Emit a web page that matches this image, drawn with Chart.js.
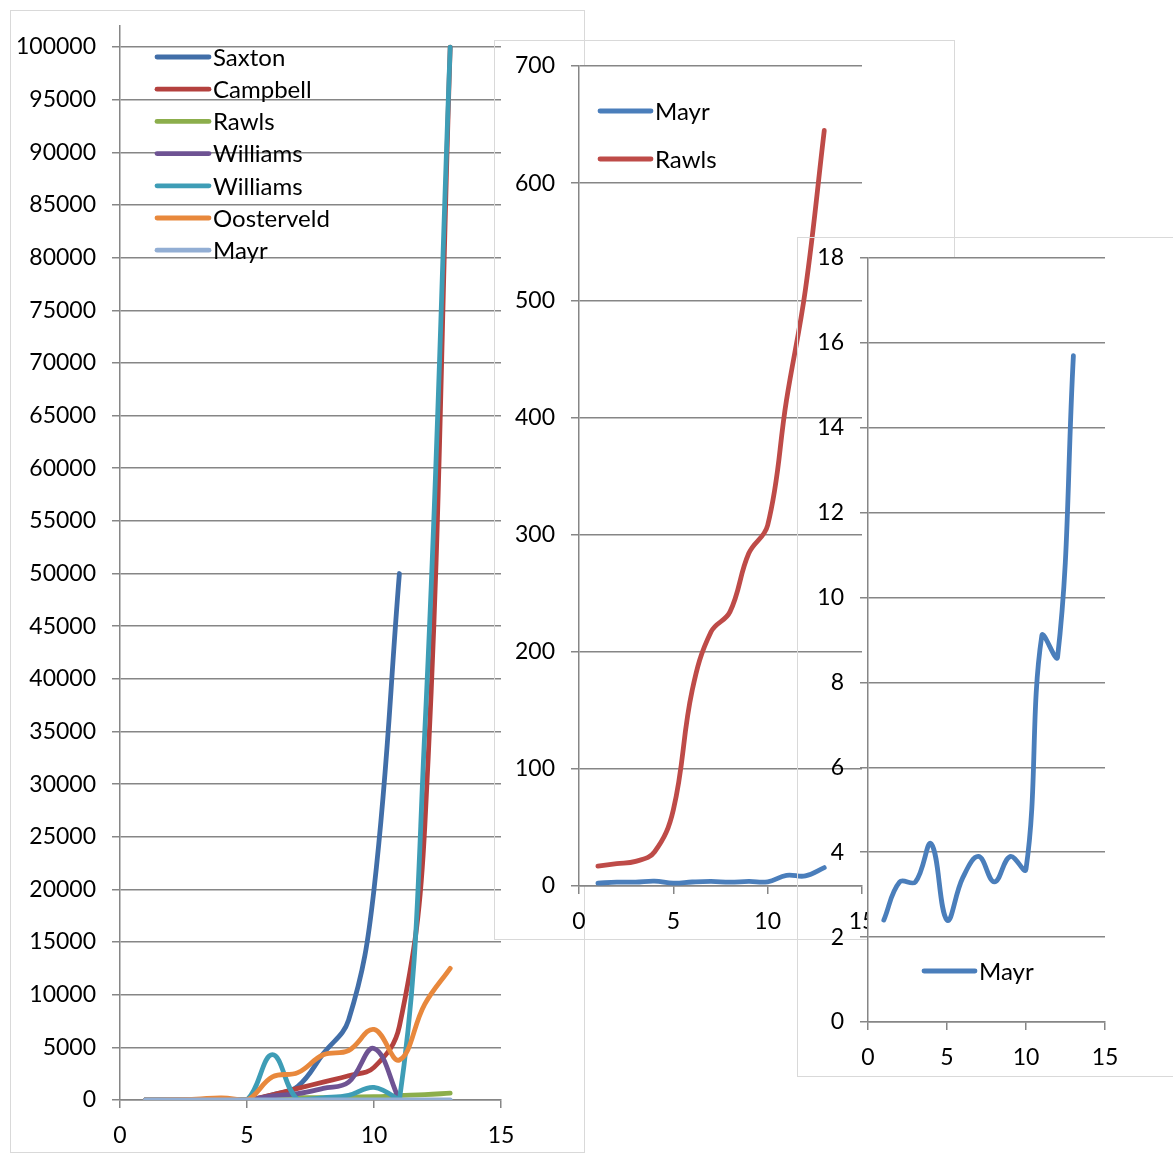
<!DOCTYPE html>
<html>
<head>
<meta charset="utf-8">
<title>Series growth</title>
<script src="https://cdn.jsdelivr.net/npm/chart.js@4.4.1/dist/chart.umd.min.js"></script>
<style>
  html, body { margin: 0; padding: 0; background: #ffffff; }
  #stage { position: relative; width: 1173px; height: 1154px; overflow: hidden; }
  #stage canvas { position: absolute; left: 0; top: 0; }
  .frame { position: absolute; box-sizing: border-box; border: 1.5px solid #d9d9d9; }
</style>
</head>
<body>
<div id="stage">
  <div class="frame" style="left:10px;top:10px;width:575px;height:1143px;"></div>
  <canvas id="c1" width="1173" height="1154"></canvas>
  <div class="frame" style="left:494px;top:40px;width:461px;height:900px;"></div>
  <canvas id="c2" width="1173" height="1154"></canvas>
  <div class="frame" style="left:797px;top:237px;width:377px;height:840px;"></div>
  <canvas id="c3" width="1173" height="1154"></canvas>
</div>
<script>
// x positions shared by every series
const xs = [1, 2, 3, 4, 5, 6, 7, 8, 9, 10, 11, 12, 13];

// all series
const saxton     = [0, 0, 0, 0, 0, 500, 1300, 4400, 7600, 20000, 50000];
const campbell   = [0, 0, 0, 0, 0, 500, 1100, 1700, 2300, 3100, 7000, 26000, 100000];
const rawls      = [17, 19, 21, 29, 65, 167, 217, 234, 284, 308, 415, 509, 645];
const williams1  = [0, 0, 0, 0, 0, 400, 600, 1100, 1700, 4900, 0];
const williams2  = [0, 0, 0, 0, 0, 4300, 0, 200, 450, 1200, 0, 35000, 100000];
const oosterveld = [10, 30, 80, 200, 0, 2200, 2600, 4300, 4700, 6700, 3800, 9100, 12500];
const mayr       = [2.4, 3.3, 3.3, 4.2, 2.4, 3.4, 3.9, 3.3, 3.9, 3.6, 9.1, 8.6, 15.7];

// axis ticks
const xTicks = [0, 5, 10, 15];
const yTicksAll = [0, 100000, 5000];   // min, max, step
const yTicksRawls = [0, 700, 100];
const yTicksMayr = [0, 18, 2];

const FONT = 'Lato, "Open Sans", sans-serif';
const GRID = '#868686';

function pts(vals) {
  return vals.map((v, i) => ({ x: xs[i], y: v }));
}

function series(label, vals, color, idx) {
  return {
    label: label,
    data: pts(vals),
    borderColor: color,
    backgroundColor: color,
    borderWidth: 4.8,
    borderCapStyle: 'round',
    borderJoinStyle: 'round',
    pointRadius: 0,
    tension: 0.4,
    fill: false,
    order: 100 - idx
  };
}

// fixed plot rectangle and white plot area behind grid and lines
const plotFill = {
  id: 'plotFill',
  afterLayout(chart, args, opts) {
    const b = opts.box;
    const a = chart.chartArea;
    a.left = b.left; a.right = b.right; a.top = b.top; a.bottom = b.bottom;
    a.width = b.right - b.left; a.height = b.bottom - b.top;
    const x = chart.scales.x, y = chart.scales.y;
    x.left = b.left; x.right = b.right; x.width = b.right - b.left;
    x.top = b.bottom; x.bottom = chart.height; x.height = chart.height - b.bottom;
    y.left = 0; y.right = b.left; y.width = b.left;
    y.top = b.top; y.bottom = b.bottom; y.height = b.bottom - b.top;
    x.configure();
    y.configure();
  },
  beforeDraw(chart) {
    const a = chart.chartArea;
    const ctx = chart.ctx;
    ctx.save();
    ctx.fillStyle = '#ffffff';
    ctx.fillRect(a.left, a.top, a.right - a.left, a.bottom - a.top);
    ctx.restore();
  }
};

// legend drawn inside the plot area
const boxLegend = {
  id: 'boxLegend',
  afterDraw(chart, args, opts) {
    const ctx = chart.ctx;
    ctx.save();
    ctx.font = opts.fontSize + 'px ' + FONT;
    ctx.textBaseline = 'middle';
    ctx.textAlign = 'left';
    chart.data.datasets.forEach((ds, i) => {
      const y = opts.y + i * opts.dy;
      ctx.strokeStyle = ds.borderColor;
      ctx.lineWidth = 4.8;
      ctx.lineCap = 'round';
      ctx.beginPath();
      ctx.moveTo(opts.x, y);
      ctx.lineTo(opts.x + opts.len, y);
      ctx.stroke();
      ctx.fillStyle = '#000000';
      ctx.fillText(ds.label, opts.x + opts.len + 4, y + 1);
    });
    ctx.restore();
  }
};

function makeChart(id, datasets, yDef, box, legend, yTop) {
  const W = 100, H = 30;
  const canvasW = 1173, canvasH = 1154;
  new Chart(document.getElementById(id), {
    type: 'line',
    data: { datasets: datasets },
    plugins: [plotFill, boxLegend],
    options: {
      responsive: false,
      animation: false,
      events: [],
      layout: {
        padding: {
          left: box.left - W,
          right: canvasW - box.right,
          top: box.top,
          bottom: canvasH - box.bottom - H
        }
      },
      plugins: {
        legend: { display: false },
        tooltip: { enabled: false },
        plotFill: { box: box },
        boxLegend: legend
      },
      scales: {
        x: {
          type: 'linear',
          min: xTicks[0],
          max: xTicks[xTicks.length - 1],
          afterFit(s) { s.height = H; },
          afterBuildTicks(s) { s.ticks = xTicks.map(v => ({ value: v })); },
          ticks: {
            color: '#000000',
            font: { family: FONT, size: 23 },
            padding: 14,
            maxRotation: 0,
            callback: v => String(v)
          },
          grid: {
            drawOnChartArea: false,
            drawTicks: true,
            tickLength: 8,
            color: GRID,
            lineWidth: 1.5
          },
          border: { display: true, color: GRID, width: 1.5 }
        },
        y: {
          type: 'linear',
          min: yDef[0],
          max: yTop !== undefined ? yTop : yDef[1],
          afterFit(s) { s.width = W; },
          afterBuildTicks(s) {
            const t = [];
            for (let v = yDef[0]; v <= yDef[1] + 1e-9; v += yDef[2]) t.push({ value: v });
            s.ticks = t;
          },
          ticks: {
            color: '#000000',
            font: { family: FONT, size: 23 },
            padding: 16,
            callback: v => String(v)
          },
          grid: {
            drawTicks: true,
            tickLength: 8,
            color: GRID,
            lineWidth: 1.5
          },
          border: { display: true, color: GRID, width: 1.5 }
        }
      }
    }
  });
}

// all seven series
makeChart('c1', [
  series('Saxton', saxton, '#416ea8', 0),
  series('Campbell', campbell, '#b4413e', 1),
  series('Rawls', rawls, '#8cae4c', 2),
  series('Williams', williams1, '#6e5393', 3),
  series('Williams', williams2, '#3e9db6', 4),
  series('Oosterveld', oosterveld, '#e8883c', 5),
  series('Mayr', mayr, '#92aed4', 6)
], yTicksAll, { left: 120, right: 501, top: 26, bottom: 1100 },
  { x: 157, y: 57, dy: 32.2, len: 52, fontSize: 24 }, 102000);

// Mayr and Rawls
makeChart('c2', [
  series('Mayr', mayr, '#4a7ebb', 0),
  series('Rawls', rawls, '#be4b48', 1)
], yTicksRawls, { left: 579, right: 862, top: 66, bottom: 886 },
  { x: 600, y: 111, dy: 48, len: 51, fontSize: 24 });

// Mayr alone
makeChart('c3', [
  series('Mayr', mayr, '#4a7ebb', 0)
], yTicksMayr, { left: 868, right: 1105, top: 258, bottom: 1022 },
  { x: 924, y: 971, dy: 0, len: 51, fontSize: 24 });
</script>
</body>
</html>
